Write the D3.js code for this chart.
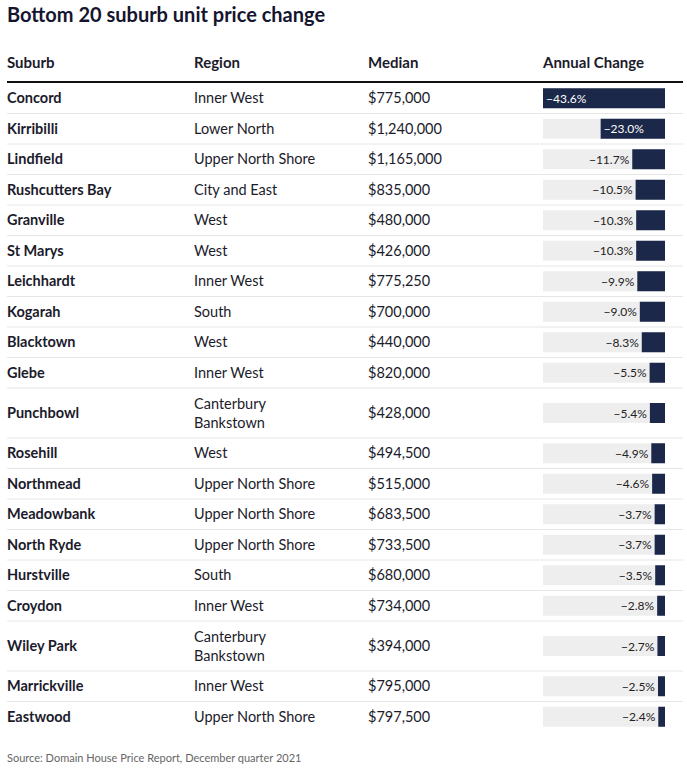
<!DOCTYPE html>
<html><head><meta charset="utf-8">
<script src="https://cdn.jsdelivr.net/npm/d3@7"></script>
<style>
body{margin:0;background:#fff;}
svg{display:block;font-family:Lato,"Noto Sans",sans-serif;}
</style></head>
<body><div id="chart"></div>
<script>
const title = "Bottom 20 suburb unit price change";
const headers = ["Suburb","Region","Median","Annual Change"];
const suburbs = ["Concord","Kirribilli","Lindfield","Rushcutters Bay","Granville","St Marys","Leichhardt","Kogarah","Blacktown","Glebe","Punchbowl","Rosehill","Northmead","Meadowbank","North Ryde","Hurstville","Croydon","Wiley Park","Marrickville","Eastwood"];
const regions = ["Inner West","Lower North","Upper North Shore","City and East","West","West","Inner West","South","West","Inner West","Canterbury|Bankstown","West","Upper North Shore","Upper North Shore","Upper North Shore","South","Inner West","Canterbury|Bankstown","Inner West","Upper North Shore"];
const medians = ["$775,000","$1,240,000","$1,165,000","$835,000","$480,000","$426,000","$775,250","$700,000","$440,000","$820,000","$428,000","$494,500","$515,000","$683,500","$733,500","$680,000","$734,000","$394,000","$795,000","$797,500"];
const changes = [-43.6,-23.0,-11.7,-10.5,-10.3,-10.3,-9.9,-9.0,-8.3,-5.5,-5.4,-4.9,-4.6,-3.7,-3.7,-3.5,-2.8,-2.7,-2.5,-2.4];
const source = "Source: Domain House Price Report, December quarter 2021";

const W = 687, H = 769;
const svg = d3.select("#chart").append("svg").attr("width", W).attr("height", H);
const ink = "#1b1b2b";
const navy = "#1c2849";
const colX = [7, 194, 368, 543];
const barL = 543, barR = 665;

svg.append("text").attr("x", 7).attr("y", 22).attr("font-size", 20).attr("font-weight", 700)
  .attr("fill", "#151530").text(title);

headers.forEach((h, i) => {
  svg.append("text").attr("x", colX[i]).attr("y", 67.5).attr("font-size", 15).attr("font-weight", 700)
    .attr("fill", ink).text(h);
});
svg.append("line").attr("x1", 7).attr("x2", 683).attr("y1", 82).attr("y2", 82)
  .attr("stroke", "#111").attr("stroke-width", 2);

const x = d3.scaleLinear().domain([0, 43.6]).range([0, barR - barL]);

const rows = suburbs.map((s, i) => ({s, r: regions[i].split("|"), m: medians[i], c: changes[i]}));
let y = 83;
rows.forEach(d => { d.h = d.r.length > 1 ? 50 : 30.5; d.top = y; d.cy = y + d.h / 2; y += d.h; });

const g = svg.append("g");
rows.forEach((d, i) => {
  const row = g.append("g");
  if (i < rows.length - 1)
    row.append("line").attr("x1", 7).attr("x2", 683).attr("y1", d.top + d.h).attr("y2", d.top + d.h)
      .attr("stroke", "#e6e6e6").attr("stroke-width", 1);
  row.append("text").attr("x", colX[0]).attr("y", d.cy + 5).attr("font-size", 14.5).attr("font-weight", 700)
    .attr("fill", ink).text(d.s);
  if (d.r.length > 1) {
    d.r.forEach((t, k) => row.append("text").attr("x", colX[1]).attr("y", d.cy - 4.5 + k * 19)
      .attr("font-size", 14.5).attr("fill", ink).text(t));
  } else {
    row.append("text").attr("x", colX[1]).attr("y", d.cy + 5).attr("font-size", 14.5).attr("fill", ink).text(d.r[0]);
  }
  row.append("text").attr("x", colX[2]).attr("y", d.cy + 5).attr("font-size", 14.5).attr("fill", ink).text(d.m);
  row.append("rect").attr("x", barL).attr("y", d.cy - 10).attr("width", barR - barL).attr("height", 20).attr("fill", "#efeeee");
  const w = x(Math.abs(d.c));
  row.append("rect").attr("x", barR - w).attr("y", d.cy - 10).attr("width", w).attr("height", 20).attr("fill", navy);
  const lab = "\u2212" + Math.abs(d.c).toFixed(1) + "%";
  const inside = w > 50;
  row.append("text").attr("x", inside ? barR - w + 3 : barR - w - 3).attr("y", d.cy + 4.5)
    .attr("text-anchor", inside ? "start" : "end").attr("font-size", 12)
    .attr("fill", inside ? "#fff" : "#222").text(lab);
});

svg.append("text").attr("x", 7).attr("y", 762).attr("font-size", 11).attr("fill", "#666").text(source);
</script></body></html>
